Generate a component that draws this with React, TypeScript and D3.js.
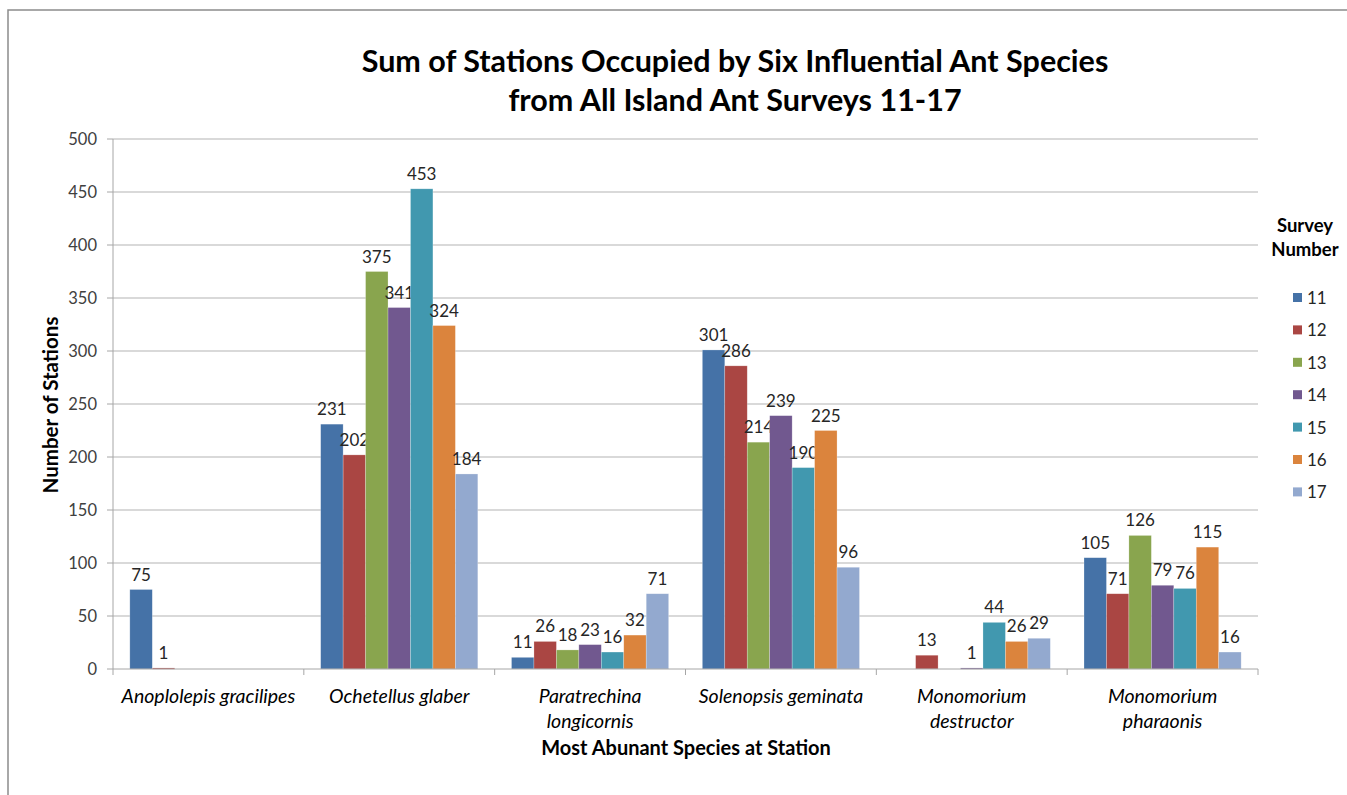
import * as React from "react";
import * as d3 from "d3";

const species = [
  ["Anoplolepis gracilipes"],
  ["Ochetellus glaber"],
  ["Paratrechina", "longicornis"],
  ["Solenopsis geminata"],
  ["Monomorium", "destructor"],
  ["Monomorium", "pharaonis"],
];
const surveys = ["11", "12", "13", "14", "15", "16", "17"];
const colors = ["#4572A7", "#AA4643", "#89A54E", "#71588F", "#4198AF", "#DB843D", "#93A9CF"];

// values per survey (rows) for each species (columns); null = no record
const survey11 = [75, 231, 11, 301, null, 105];
const survey12 = [1, 202, 26, 286, 13, 71];
const survey13 = [null, 375, 18, 214, null, 126];
const survey14 = [null, 341, 23, 239, 1, 79];
const survey15 = [null, 453, 16, 190, 44, 76];
const survey16 = [null, 324, 32, 225, 26, 115];
const survey17 = [null, 184, 71, 96, 29, 16];
const seriesValues = [survey11, survey12, survey13, survey14, survey15, survey16, survey17];

const yTicks = [0, 50, 100, 150, 200, 250, 300, 350, 400, 450, 500];

const W = 1347;
const H = 795;
const margin = { left: 113, right: 1258, top: 139, bottom: 669 };
const font = "Lato, 'Open Sans', sans-serif";

const App = () => {
  const x0 = d3
    .scaleBand<number>()
    .domain(species.map((_, i) => i))
    .range([margin.left, margin.right]);
  const x1 = d3
    .scaleBand<number>()
    .domain(surveys.map((_, i) => i))
    .range([0, x0.bandwidth()])
    .paddingOuter(0.75);
  const y = d3.scaleLinear().domain([0, 500]).range([margin.bottom, margin.top]);

  return (
    <svg
      width={W}
      height={H}
      style={{ position: "absolute", left: 0, top: 0, background: "#fff" }}
      fontFamily={font}
    >
      <rect x={8} y={10} width={W + 20} height={H + 20} fill="#fff" stroke="#8c8c8c" strokeWidth={1.5} />

      <text x={735} y={72} textAnchor="middle" fontSize={30.5} fontWeight="bold" fill="#000">
        Sum of Stations Occupied by Six Influential Ant Species
      </text>
      <text x={735} y={111} textAnchor="middle" fontSize={30.5} fontWeight="bold" fill="#000">
        from All Island Ant Surveys 11-17
      </text>

      {/* gridlines */}
      {yTicks.map((t) => (
        <g key={t}>
          {t > 0 && (
            <line x1={margin.left} x2={margin.right} y1={y(t)} y2={y(t)} stroke="#b3b3b3" strokeWidth={1} />
          )}
          <line x1={margin.left - 6} x2={margin.left} y1={y(t)} y2={y(t)} stroke="#a6a6a6" />
          <text x={97} y={y(t) + 5.5} textAnchor="end" fontSize={16.5} fill="#404040">
            {t}
          </text>
        </g>
      ))}

      {/* bars */}
      {seriesValues.map((vals, s) => (
        <g key={s} fill={colors[s]}>
          {vals.map((v, c) =>
            v == null ? null : (
              <g key={c}>
                <rect
                  x={(x0(c) as number) + (x1(s) as number)}
                  y={y(v)}
                  width={x1.bandwidth()}
                  height={Math.max(y(0) - y(v), 1.2)}
                  stroke="#fff"
                  strokeOpacity={0.4}
                  strokeWidth={0.6}
                />
                <text
                  x={(x0(c) as number) + (x1(s) as number) + x1.bandwidth() / 2}
                  y={y(v) - 9}
                  textAnchor="middle"
                  fontSize={17}
                  fill="#262626"
                >
                  {v}
                </text>
              </g>
            )
          )}
        </g>
      ))}

      {/* axes */}
      <line x1={margin.left} x2={margin.left} y1={margin.top} y2={margin.bottom} stroke="#a6a6a6" />
      <line x1={margin.left} x2={margin.right} y1={margin.bottom} y2={margin.bottom} stroke="#a6a6a6" />
      {d3.range(species.length + 1).map((i) => {
        const xx = margin.left + i * x0.bandwidth();
        return <line key={i} x1={xx} x2={xx} y1={margin.bottom} y2={margin.bottom + 6} stroke="#a6a6a6" />;
      })}
      {species.map((lines, i) => (
        <text
          key={i}
          x={(x0(i) as number) + x0.bandwidth() / 2}
          y={703}
          textAnchor="middle"
          fontSize={19.5}
          fontStyle="italic"
          fill="#000"
        >
          {lines.map((l, j) => (
            <tspan key={j} x={(x0(i) as number) + x0.bandwidth() / 2} dy={j === 0 ? 0 : 25}>
              {l}
            </tspan>
          ))}
        </text>
      ))}

      <text x={686} y={755} textAnchor="middle" fontSize={20} fontWeight="bold" fill="#000">
        Most Abunant  Species at Station
      </text>
      <text
        transform={`translate(58, 405) rotate(-90)`}
        textAnchor="middle"
        fontSize={20.5}
        fontWeight="bold"
        fill="#000"
      >
        Number of Stations
      </text>

      {/* legend */}
      <text x={1305} y={232} textAnchor="middle" fontSize={18.5} fontWeight="bold" fill="#000">
        Survey
      </text>
      <text x={1305} y={256} textAnchor="middle" fontSize={18.5} fontWeight="bold" fill="#000">
        Number
      </text>
      {surveys.map((s, i) => (
        <g key={s} transform={`translate(1293, ${298 + i * 32.4})`}>
          <rect x={0} y={-5} width={9} height={9} fill={colors[i]} />
          <text x={14} y={6} fontSize={17} fill="#262626">
            {s}
          </text>
        </g>
      ))}
    </svg>
  );
};

export default App;
